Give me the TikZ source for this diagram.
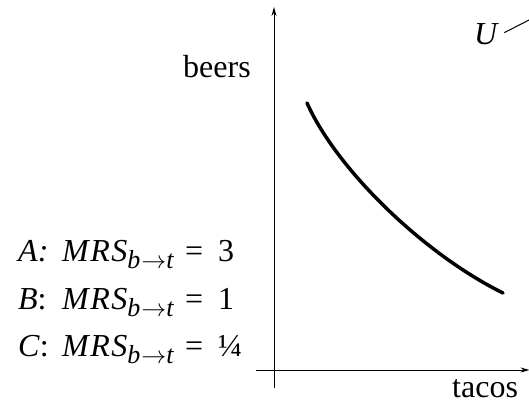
\documentclass[tikz,border=0pt]{standalone}
\usepackage{fontspec}
\setmainfont{Liberation Serif}
\usetikzlibrary{arrows.meta,positioning}

\newcommand{\mrsrow}[2]{\makebox[167pt][l]{\makebox[44pt][l]{#1}\textit{M\kern1.5pt R\kern1.5pt S}{\fontsize{26}{28}\selectfont\raisebox{-7pt}{\textit{b}\kern1pt$\rightarrow$\textit{t}}}}=\hspace{15pt}#2}

\begin{document}
\begin{tikzpicture}[x=1pt,y=-1pt,>={Stealth[length=9pt,width=5pt]},
  font=\fontsize{32}{38}\selectfont,
  lbl/.style={anchor=base west,inner sep=0pt}]
  \useasboundingbox (0,0) rectangle (529,404);
  % axes
  \coordinate (ybot) at (274,388);
  \coordinate (ytop) at (274,7);
  \coordinate (xl) at (256,370);
  \coordinate (xr) at (529.5,370);
  \draw[line width=1pt,->] (ybot) -- (ytop);
  \draw[line width=1pt,->] (xl) -- (xr);
  % indifference curve
  \coordinate (top) at (307,103);
  \coordinate (bot) at (503,293);
  \draw[line width=3.5pt,line cap=round] (top) .. controls (337,170) and (424,254) .. (bot);
  \node[lbl] (beers) at (183,77) {beers};
  \node[lbl] (tacos) at (452,397) {tacos};
  \node[lbl] (U) at (474,45) {\textit{U}};
  \coordinate (Uend) at (531,19);
  \draw[line width=1pt] ([xshift=5pt,yshift=2pt]U.east) -- (Uend);
  % MRS at the three points
  \node[lbl] (rowA) at (18,261) {\mrsrow{\textit{A:}}{3}};
  \node[lbl] (rowB) at (18,309) {\mrsrow{\textit{B}:}{1}};
  \node[lbl] (rowC) at (18,356) {\mrsrow{\textit{C}:}{¼}};
\end{tikzpicture}
\end{document}
